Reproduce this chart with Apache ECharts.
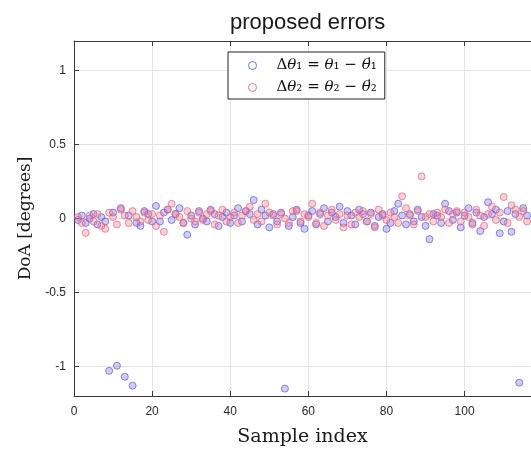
<!DOCTYPE html>
<html>
<head>
<meta charset="utf-8">
<title>proposed errors</title>
<script src="https://cdn.jsdelivr.net/npm/echarts@6.0.0/dist/echarts.min.js"></script>
<style>
  html, body { margin: 0; padding: 0; background: #fff; }
  #chart { width: 531px; height: 452px; }
</style>
</head>
<body>
<div id="chart"></div>
<script>
// 样本序号从1开始
var sampleStart = 1;

// Δθ1 误差 (蓝色)
var errTheta1 = [
  -0.01, 0.02, -0.03, 0.00, 0.03, -0.04, 0.01, -0.02, -1.03, 0.04,
  -0.995, 0.07, -1.07, 0.02, -1.13, -0.03, -0.05, 0.05, 0.03, -0.02,
  0.085, -0.02, 0.04, 0.06, -0.01, 0.03, 0.07, -0.03, -0.11, 0.02,
  -0.04, 0.05, 0.00, -0.02, 0.06, 0.03, -0.05, 0.01, 0.04, -0.03,
  0.02, 0.07, -0.02, 0.05, 0.03, 0.125, -0.04, 0.06, 0.02, -0.06,
  0.03, -0.02, 0.04, -1.15, -0.05, 0.01, 0.06, -0.03, -0.07, 0.02,
  0.05, -0.04, 0.03, 0.07, -0.02, 0.04, 0.01, 0.08, -0.03, 0.05,
  0.02, -0.04, 0.06, 0.03, -0.02, 0.04, -0.05, 0.01, 0.03, -0.07,
  -0.03, 0.05, 0.10, 0.02, -0.04, 0.03, -0.02, 0.06, 0.01, -0.05,
  -0.14, 0.03, 0.02, -0.03, 0.10, 0.05, -0.01, 0.04, -0.06, 0.02,
  0.07, -0.03, 0.04, -0.085, 0.01, 0.11, 0.03, 0.06, -0.10, -0.02,
  0.05, -0.09, 0.03, -1.11, 0.07, 0.02
];

// Δθ2 误差 (红色)
var errTheta2 = [
  0.01, -0.03, -0.097, 0.02, -0.02, 0.03, -0.05, -0.07, 0.04, 0.01,
  -0.04, 0.06, 0.02, -0.03, 0.05, 0.01, -0.02, 0.04, -0.01, 0.03,
  -0.05, 0.02, -0.09, 0.06, 0.10, 0.03, 0.01, -0.03, 0.05, 0.00,
  -0.02, 0.04, -0.01, 0.03, 0.05, -0.04, 0.02, 0.06, -0.02, 0.01,
  0.04, -0.03, 0.02, 0.05, 0.08, -0.01, 0.03, -0.02, 0.10, 0.04,
  0.02, -0.04, 0.03, 0.00, -0.03, 0.05, 0.05, -0.02, 0.03, 0.01,
  0.10, -0.03, 0.04, -0.05, 0.02, 0.06, -0.01, 0.03, -0.06, 0.02,
  -0.04, 0.04, 0.01, 0.05, -0.02, 0.03, -0.06, 0.06, 0.02, -0.01,
  0.04, 0.01, -0.03, 0.15, 0.07, 0.02, -0.04, 0.05, 0.285, 0.01,
  0.03, -0.02, 0.04, 0.01, 0.06, -0.03, 0.03, 0.05, -0.02, 0.04,
  0.01, -0.04, 0.06, 0.02, -0.05, 0.03, 0.08, -0.01, 0.04, 0.145,
  -0.03, 0.09, 0.06, 0.01, 0.05, -0.02
];

var seriesNames = ['Δθ₁ = θ₁ − θ̇₁', 'Δθ₂ = θ₂ − θ̇₂'];
var yTicks = [-1, -0.5, 0, 0.5, 1];
var xTicks = [0, 20, 40, 60, 80, 100];

initErrorChart();

//把数组变成 [x, y]
function toPoints(arr) {
  var pts = [];
  for (var i = 0; i < arr.length; i++) {
    pts.push([sampleStart + i, arr[i]]);
  }
  return pts;
}

//图例的公式 (θ 用斜体, 带点的 θ 单独画一个点)
function legendText(name) {
  var parts = name.split('θ');
  var s = '{n|' + parts[0] + '}';
  for (var i = 1; i < parts.length; i++) {
    var rest = parts[i];
    s += '{i|θ}';
    if (rest.charAt(0) === '\u0307') {
      s += '{d|\u02D9\u2009}';
      rest = rest.substring(1);
    }
    s += '{n|' + rest + '}';
  }
  return s;
}

function initErrorChart() {
  var chart = echarts.init(document.getElementById('chart'));
  var axisColor = '#3a3a3a';
  var gridColor = '#e4e4e4';
  var serif = 'DejaVu Serif, serif';
  var option = {
    animation: false,
    backgroundColor: '#fff',
    grid: {
      left: 74,
      top: 41,
      width: 466,
      height: 363
    },
    graphic: [{
      type: 'text',
      left: 230,
      top: 12,
      style: {
        text: 'proposed errors',
        fontFamily: 'Liberation Sans, Arial, sans-serif',
        fontSize: 22,
        fill: '#1a1a1a'
      }
    }],
    legend: {
      orient: 'vertical',
      left: 228,
      top: 52,
      padding: [6, 8, 4, 20],
      itemGap: 7,
      itemWidth: 38,
      itemHeight: 8,
      icon: 'circle',
      backgroundColor: '#fff',
      borderColor: '#222',
      borderWidth: 1,
      borderRadius: 0,
      formatter: legendText,
      textStyle: {
        rich: {
          n: { fontFamily: serif, fontSize: 15, color: '#111' },
          i: { fontFamily: serif, fontSize: 15, fontStyle: 'italic', color: '#111' },
          d: { fontFamily: serif, fontSize: 15, color: '#111', width: 0.1, align: 'right' }
        }
      },
      data: [{
        name: seriesNames[0],
        itemStyle: { color: 'rgba(0,0,0,0)', borderColor: '#4a5ad8', borderWidth: 1 }
      }, {
        name: seriesNames[1],
        itemStyle: { color: 'rgba(0,0,0,0)', borderColor: '#d85560', borderWidth: 1 }
      }]
    },
    xAxis: [{
      type: 'value',
      min: 0,
      max: 117,
      interval: 20,
      name: 'Sample index',
      nameLocation: 'middle',
      nameGap: 32,
      nameTextStyle: {
        fontFamily: serif,
        fontSize: 19,
        color: '#1a1a1a'
      },
      axisLine: { show: true, onZero: false, lineStyle: { color: axisColor, width: 1 } },
      axisTick: { show: true, inside: true, length: 5, customValues: xTicks, lineStyle: { color: axisColor } },
      axisLabel: {
        customValues: xTicks,
        margin: 10,
        fontFamily: 'Liberation Sans, Arial, sans-serif',
        fontSize: 12,
        color: '#2a2a2a'
      },
      splitLine: { show: true, lineStyle: { color: gridColor, width: 1 } }
    }, {
      //上边框
      type: 'value',
      position: 'top',
      min: 0,
      max: 117,
      interval: 20,
      axisLine: { show: true, onZero: false, lineStyle: { color: axisColor, width: 1 } },
      axisTick: { show: true, inside: true, length: 5, customValues: xTicks, lineStyle: { color: axisColor } },
      axisLabel: { show: false },
      splitLine: { show: false }
    }],
    yAxis: {
      type: 'value',
      min: -1.2,
      max: 1.2,
      name: 'DoA [degrees]',
      nameLocation: 'middle',
      nameRotate: 90,
      nameGap: 33,
      nameTextStyle: {
        fontFamily: serif,
        fontSize: 17,
        color: '#1a1a1a'
      },
      axisLine: { show: true, onZero: false, lineStyle: { color: axisColor, width: 1 } },
      axisTick: { show: true, inside: true, length: 5, customValues: yTicks, lineStyle: { color: axisColor } },
      axisLabel: {
        customValues: yTicks,
        margin: 8,
        fontFamily: 'Liberation Sans, Arial, sans-serif',
        fontSize: 12,
        color: '#2a2a2a'
      },
      splitLine: { show: true, lineStyle: { color: gridColor, width: 1 } }
    },
    series: [{
      name: seriesNames[0],
      type: 'scatter',
      symbol: 'circle',
      symbolSize: 7,
      itemStyle: {
        color: 'rgba(125,115,235,0.45)',
        borderColor: 'rgba(90,85,215,0.85)',
        borderWidth: 1
      },
      data: toPoints(errTheta1)
    }, {
      name: seriesNames[1],
      type: 'scatter',
      symbol: 'circle',
      symbolSize: 7,
      itemStyle: {
        color: 'rgba(245,125,150,0.45)',
        borderColor: 'rgba(230,95,120,0.85)',
        borderWidth: 1
      },
      data: toPoints(errTheta2)
    }]
  };
  chart.setOption(option);
}
</script>
</body>
</html>
